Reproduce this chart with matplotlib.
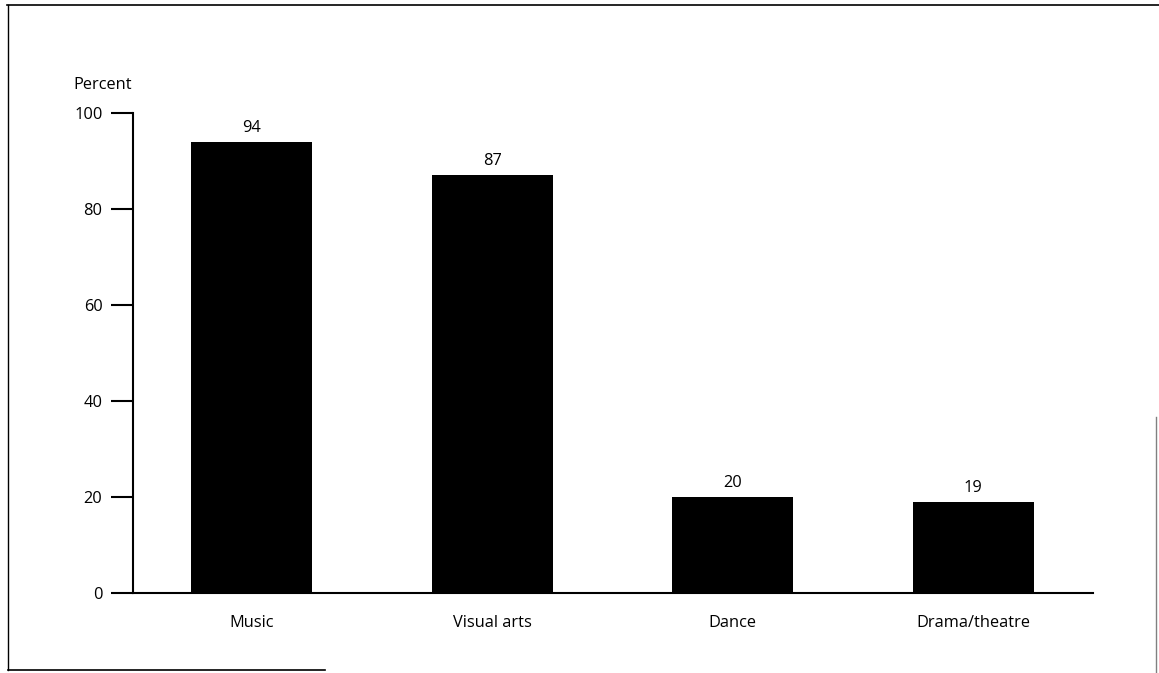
import matplotlib.pyplot as plt
from matplotlib.lines import Line2D

categories = ["Music", "Visual arts", "Dance", "Drama/theatre"]
percents = [94, 87, 20, 19]
yticks = [0, 20, 40, 60, 80, 100]

plt.rcParams["font.family"] = ["Open Sans", "DejaVu Sans"]
fs = 11.8

fig = plt.figure(figsize=(11.59, 6.73), dpi=100)
ax = fig.add_axes([0.1148, 0.1189, 0.8283, 0.7132])

x = range(len(categories))
ax.bar(x, percents, width=0.503, color="black")

for xi, v in zip(x, percents):
    ax.text(xi, v + 1.3, str(v), ha="center", va="bottom", fontsize=fs)

ax.set_xlim(-0.493, 3.499)
ax.set_ylim(0, 100)
ax.set_yticks(yticks)
ax.set_xticks(list(x))
ax.set_xticklabels(categories, fontsize=fs)
ax.tick_params(axis="x", length=0, pad=16)
ax.tick_params(axis="y", length=16, width=1.5, labelsize=fs, pad=6)

for s in ["top", "right"]:
    ax.spines[s].set_visible(False)
ax.spines["left"].set_linewidth(1.5)
ax.spines["bottom"].set_linewidth(1.5)

fig.text(73 / 1159, 1 - 85 / 673, "Percent", ha="left", va="center", fontsize=fs)

# scanned page frame
fig.add_artist(Line2D([0.006, 1.0], [0.992, 0.992], color="black", lw=1.2))
fig.add_artist(Line2D([0.007, 0.007], [0.004, 0.992], color="black", lw=1.0))
fig.add_artist(Line2D([0.007, 0.28], [0.004, 0.004], color="black", lw=1.2))
fig.add_artist(Line2D([0.9975, 0.9975], [0.0, 0.38], color="gray", lw=1.0))

fig.savefig("out.png", dpi=100)
